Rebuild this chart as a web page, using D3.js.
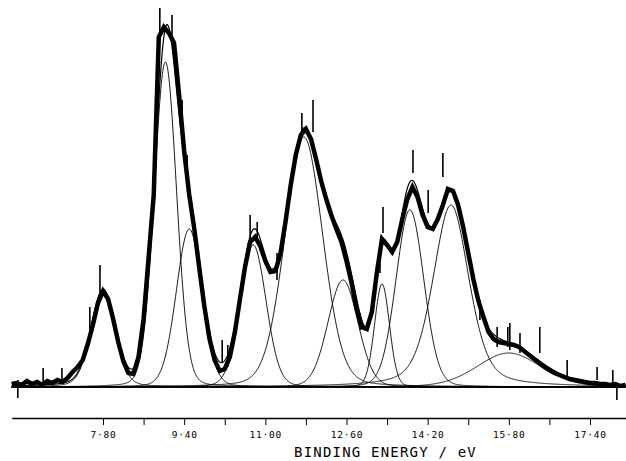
<!DOCTYPE html>
<html>
<head>
<meta charset="utf-8">
<script src="https://cdn.jsdelivr.net/npm/d3@7"></script>
<style>
  body { margin: 0; background: #fff; }
  svg { display: block; }
  .axis path, .axis line { stroke: #000; }
  .axis text { font-family: 'DejaVu Sans Mono', monospace; font-size: 9.5px; letter-spacing: 0.8px; fill: #000; }
  .title { font-family: 'DejaVu Sans Mono', monospace; font-size: 14px; letter-spacing: 1.2px; fill: #000; }
</style>
</head>
<body>
<div id="chart"></div>
<script>
// fitted bands: centre (eV), height (counts), gaussian sigma (eV), lorentzian share
const peakCentres = [7.80, 9.03, 9.50, 10.76, 11.76, 12.53, 13.30, 13.85, 14.66, 15.80];
const peakHeights = [95, 325, 158, 142, 250, 107, 103, 177, 182, 34];
const peakWidths  = [0.237, 0.22, 0.256, 0.256, 0.375, 0.296, 0.148, 0.276, 0.355, 0.63];
const peakLorentz = [0.2, 0.1, 0.1, 0.1, 0.15, 0.1, 0.1, 0.1, 0.4, 0.2];

// measured spectrum, read every 0.1 eV starting at 6.0 eV
const specStart = 6.0;
const specStep = 0.1;
const specCounts = [
  3, 4, 2, 6, 3, 5, 2, 6, 4, 7,
  5, 9, 15, 20, 27, 43, 62, 84, 96, 88,
  68, 45, 26, 14, 13, 30, 68, 130, 192, 350,
  360, 354, 344, 292, 236, 192, 158, 118, 80, 48,
  27, 16, 18, 30, 55, 88, 120, 145, 150, 141,
  126, 115, 116, 134, 166, 202, 232, 252, 258, 248,
  228, 206, 188, 172, 158, 145, 126, 104, 78, 60,
  58, 75, 115, 148, 142, 135, 145, 168, 188, 200,
  190, 172, 160, 158, 168, 182, 198, 196, 182, 160,
  134, 108, 86, 70, 55, 48, 45, 44, 43, 42,
  40, 36, 32, 28, 24, 20, 17, 14, 12, 10,
  8, 7, 6, 5, 4, 4, 3, 3, 2, 3,
  1, 2
];

// single noise spikes in the trace: energy, low and high count
const spikeEnergy = [6.12, 6.62, 6.99, 7.54, 7.74, 8.92, 9.16, 9.36, 9.46, 10.15, 10.26, 10.70, 10.84,
  11.23, 11.72, 11.94, 12.87, 13.26, 13.32, 13.91, 14.21, 14.50, 15.23, 15.57, 15.78, 15.82,
  16.02, 16.41, 16.95, 17.54, 17.85, 17.93];
const spikeLow = [-11, 2, 4, 50, 92, 347, 347, 257, 209, 25, 20, 147, 147,
  107, 254, 255, 57, 114, 154, 214, 174, 210, 67, 40, 40, 37,
  34, 34, 10, 7, 0, -13];
const spikeHigh = [7, 19, 19, 80, 122, 379, 372, 287, 232, 47, 42, 172, 165,
  134, 274, 287, 74, 130, 180, 237, 197, 234, 87, 60, 60, 64,
  54, 60, 27, 20, 17, 0];

// axis
const tickMajor = [7.8, 9.4, 11.0, 12.6, 14.2, 15.8, 17.4];
const tickMinor = [8.6, 10.2, 11.8, 13.4, 15.0, 16.6];
const xTitle = 'BINDING ENERGY / eV';

const w = 626, h = 461;

const svg = d3.select('#chart').append('svg')
  .attr('width', w)
  .attr('height', h);

// Scales
const xScale = d3.scaleLinear()
  .domain([6.0, 18.1])
  .range([11.7, 625.5]);

const yScale = d3.scaleLinear()
  .domain([0, 380])
  .range([387, 7]);

// pseudo-voigt band
function band(i, e) {
  const s = peakWidths[i];
  const d = e - peakCentres[i];
  const g = Math.exp(-0.5 * (d / s) * (d / s));
  const gam = s * Math.sqrt(2 * Math.LN2);
  const l = 1 / (1 + (d / gam) * (d / gam));
  return peakHeights[i] * ((1 - peakLorentz[i]) * g + peakLorentz[i] * l);
}

const grid = d3.range(6.0, 18.1001, 0.01);

const line = d3.line()
  .x(function(d) { return xScale(d[0]); })
  .y(function(d) { return yScale(d[1]); });

// baseline
svg.append('line')
  .attr('x1', xScale(6.0)).attr('x2', xScale(18.1))
  .attr('y1', yScale(0)).attr('y2', yScale(0))
  .attr('stroke', '#000')
  .attr('stroke-width', 1.6);

// component bands
peakCentres.forEach(function(c, i) {
  svg.append('path')
    .datum(grid.map(function(e) { return [e, band(i, e)]; }))
    .attr('d', line)
    .attr('fill', 'none')
    .attr('stroke', '#000')
    .attr('stroke-width', 0.9);
});

// envelope of the fit
svg.append('path')
  .datum(grid.map(function(e) {
    return [e, d3.sum(peakCentres, function(c, i) { return band(i, e); })];
  }))
  .attr('d', line)
  .attr('fill', 'none')
  .attr('stroke', '#000')
  .attr('stroke-width', 1.2);

// measured spectrum
svg.append('path')
  .datum(specCounts.map(function(v, i) { return [specStart + i * specStep, v]; }))
  .attr('d', line)
  .attr('fill', 'none')
  .attr('stroke', '#000')
  .attr('stroke-width', 4.5)
  .attr('stroke-linejoin', 'miter');

// noise spikes
svg.selectAll('.spike')
  .data(spikeEnergy)
  .enter()
  .append('line')
  .attr('class', 'spike')
  .attr('x1', function(d) { return xScale(d); })
  .attr('x2', function(d) { return xScale(d); })
  .attr('y1', function(d, i) { return yScale(spikeLow[i]); })
  .attr('y2', function(d, i) { return yScale(spikeHigh[i]); })
  .attr('stroke', '#000')
  .attr('stroke-width', 1.6);

// X-axis
const fmt = function(d) { return d3.format('.2f')(d).replace('.', '\u00b7'); };

svg.append('g')
  .attr('class', 'axis')
  .attr('transform', 'translate(0, 418)')
  .call(d3.axisBottom(xScale)
    .tickValues(tickMajor)
    .tickFormat(fmt)
    .tickSize(7)
    .tickPadding(6)
    .tickSizeOuter(0))
  .call(function(g) { g.select('.domain').attr('stroke-width', 1.5); });

svg.append('g')
  .attr('class', 'axis')
  .attr('transform', 'translate(0, 418)')
  .call(d3.axisBottom(xScale)
    .tickValues(tickMinor)
    .tickFormat('')
    .tickSize(7)
    .tickSizeOuter(0))
  .call(function(g) { g.select('.domain').remove(); });

svg.append('text')
  .attr('class', 'title')
  .attr('x', 294)
  .attr('y', 457)
  .text(xTitle);
</script>
</body>
</html>
